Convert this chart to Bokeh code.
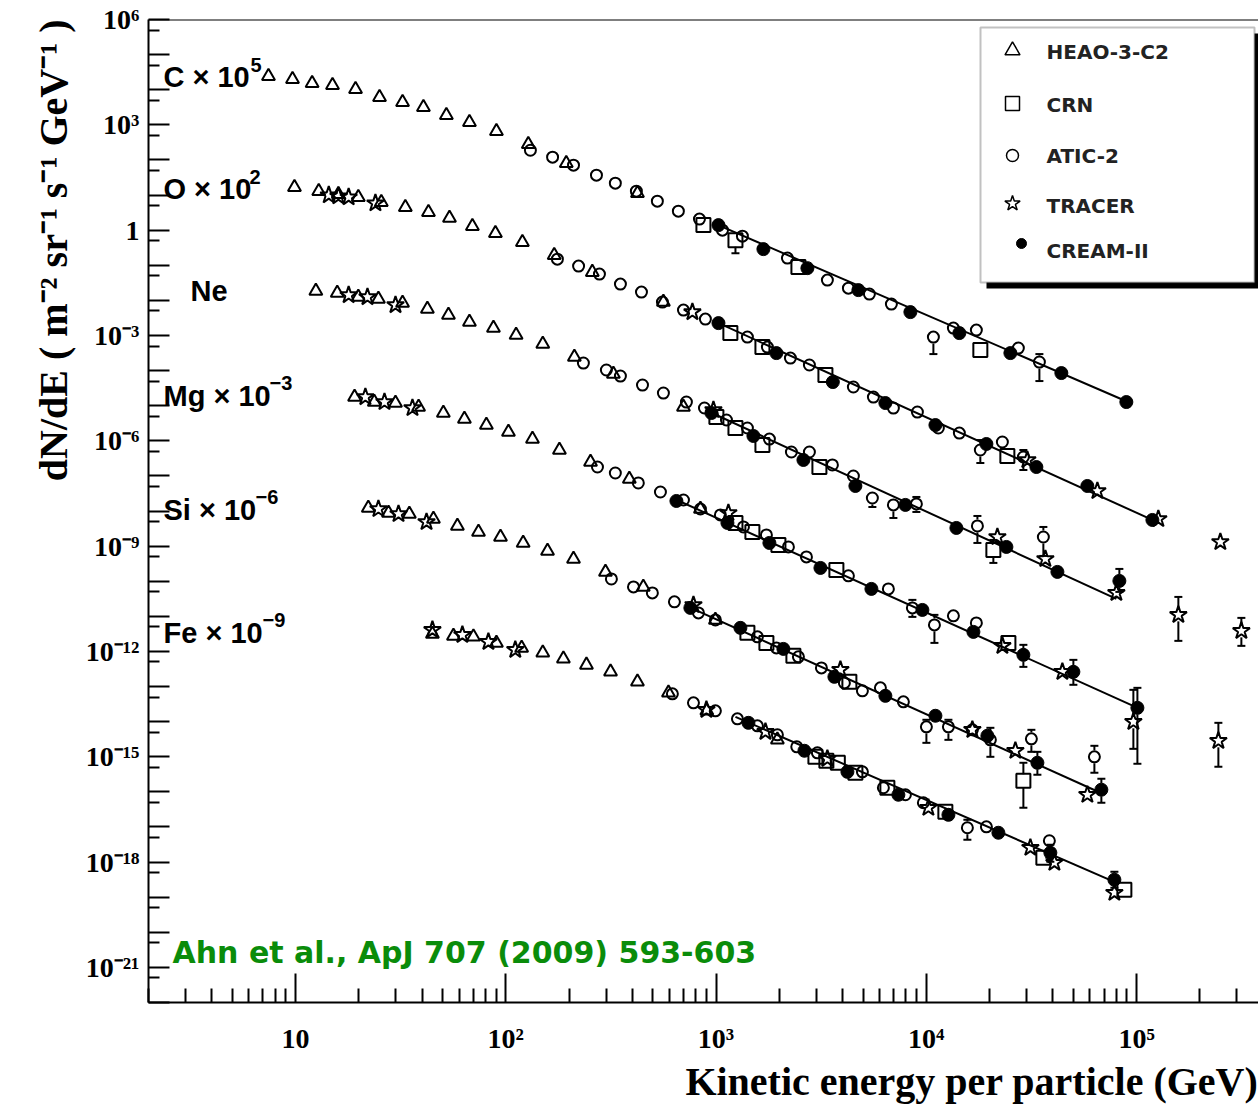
import math
from bokeh.plotting import figure
from bokeh.models import (FixedTicker, CustomJSTickFormatter, Label, Span,
                          BoxAnnotation, Title)
from bokeh.embed import file_html
from bokeh.resources import INLINE

# ---------------- axis ranges / ticks ----------------
X_LO, X_HI = 2.0, 3.8e5
Y_LO, Y_HI = 1e-22, 1e6
X_MAJOR = [10.0 ** n for n in range(0, 6)]
X_MINOR = [m * 10.0 ** n for n in range(0, 6) for m in range(2, 10)]
Y_MAJOR = [10.0 ** n for n in range(-22, 7)]
Y_MINOR = [5 * 10.0 ** n for n in range(-22, 6)]

# ---------------- labels ----------------
ELEMENTS = ["C", "O", "Ne", "Mg", "Si", "Fe"]
ELEMENT_BASE = ["C \u00d7 10", "O \u00d7 10", "Ne", "Mg \u00d7 10", "Si \u00d7 10", "Fe \u00d7 10"]
ELEMENT_EXP = ["5", "2", "", "\u22123", "\u22126", "\u22129"]
SCALES = [1e5, 1e2, 1.0, 1e-3, 1e-6, 1e-9]
EXPERIMENTS = ["HEAO-3-C2", "CRN", "ATIC-2", "TRACER", "CREAM-II"]
CITATION = "Ahn et al., ApJ 707 (2009) 593-603"
X_TITLE = "Kinetic energy per particle (GeV)"
Y_TITLE = "dN/dE ( m\u207b\u00b2 sr\u207b\u00b9 s\u207b\u00b9 GeV\u207b\u00b9 )"

# ---------------- data: E (GeV), unscaled flux (m^-2 sr^-1 s^-1 GeV^-1) ----------------
# Carbon
C_HEAO_E = [7.44, 9.68, 12.0, 15.0, 19.3, 25.1, 32.3, 40.6, 52.2, 67.2, 90.3, 128, 194, 423]
C_HEAO_F = [0.242, 0.199, 0.153, 0.134, 0.103, 0.0611, 0.0440, 0.0317, 0.0188, 0.0119, 6.58e-3, 2.81e-3, 8.07e-4, 1.13e-4]
C_CRN_E = [871, 1237, 2465, 18070]
C_CRN_F = [1.39e-5, 5.19e-6, 8.85e-7, 3.84e-9]
C_ATIC_E = [131, 167, 210, 270, 332, 418, 526, 662, 834, 1073, 1335, 2185, 3385, 4261, 5362, 6823, 10807, 13453, 17300, 27400, 34500]
C_ATIC_F = [1.89e-3, 1.20e-3, 7.09e-4, 3.68e-4, 2.18e-4, 1.29e-4, 6.69e-5, 3.47e-5, 2.06e-5, 1.0e-5, 6.75e-6, 1.60e-6, 3.77e-7, 2.23e-7, 1.51e-7, 7.83e-8, 9.0e-9, 1.62e-8, 1.42e-8, 4.38e-9, 1.75e-9]
C_TRACER_E = []
C_TRACER_F = []
C_CREAM_E = [1027, 1680, 2720, 4754, 8400, 14360, 25110, 43880, 89400]
C_CREAM_F = [1.39e-5, 2.88e-6, 8.28e-7, 1.96e-7, 4.63e-8, 1.17e-8, 3.15e-9, 8.5e-10, 1.27e-10]
C_FIT_E = [1000, 93400]
C_FIT_F = [1.48e-5, 1.19e-10]
C_ERR_E = [1237, 10807, 34500, 89400]
C_ERR_F = [5.19e-6, 9.0e-9, 1.75e-9, 1.27e-10]
C_ERR_LO = [2.21e-6, 2.95e-9, 5.03e-10, 9.77e-11]
C_ERR_HI = [7.2e-6, 1.33e-8, 2.95e-9, 1.65e-10]

# Oxygen
O_HEAO_E = [9.89, 12.9, 16.0, 19.9, 25.6, 33.3, 42.9, 54.0, 69.4, 89.3, 120, 170, 258, 562]
O_HEAO_F = [0.167, 0.129, 0.106, 0.087, 0.0627, 0.0452, 0.0325, 0.0220, 0.0130, 8.22e-3, 4.55e-3, 1.94e-3, 6.37e-4, 8.92e-5]
O_CRN_E = [1170, 1662, 3313, 24290]
O_CRN_F = [1.17e-5, 4.67e-6, 7.46e-7, 3.69e-9]
O_ATIC_E = [176, 222, 279, 351, 442, 556, 700, 890, 1410, 1755, 2258, 2780, 4500, 5603, 6974, 9070, 11410, 14360, 18070, 23000, 28950]
O_ATIC_F = [1.49e-3, 9.45e-4, 5.59e-4, 2.90e-4, 1.72e-4, 8.92e-5, 5.28e-5, 2.93e-5, 9.0e-6, 4.67e-6, 2.27e-6, 1.44e-6, 3.40e-7, 1.76e-7, 8.57e-8, 6.59e-8, 2.31e-8, 1.66e-8, 5.46e-9, 9.23e-9, 3.45e-9]
O_TRACER_E = [14.4, 16.0, 17.9, 24.0, 772, 30240, 65100, 126900, 250200]
O_TRACER_F = [0.0992, 0.0929, 0.087, 0.0587, 4.63e-5, 2.84e-9, 3.72e-10, 5.93e-11, 1.31e-11]
O_CREAM_E = [1027, 1937, 3593, 6388, 11050, 19310, 33380, 58330, 118900]
O_CREAM_F = [2.25e-5, 3.15e-6, 4.71e-7, 1.19e-7, 2.81e-8, 8.10e-9, 1.79e-9, 5.16e-10, 5.56e-11]
O_FIT_E = [993, 126900]
O_FIT_F = [2.47e-5, 4.66e-11]
O_ERR_E = [18070, 28950]
O_ERR_F = [5.46e-9, 3.45e-9]
O_ERR_LO = [2.33e-9, 1.47e-9]
O_ERR_HI = [1.05e-8, 5.46e-9]

# Neon
Ne_HEAO_E = [12.5, 15.8, 19.9, 24.8, 32.3, 42.4, 53.4, 67.2, 87.4, 112, 150, 212, 325, 700]
Ne_HEAO_F = [0.0184, 0.0161, 0.0124, 0.0109, 8.35e-3, 5.64e-3, 3.80e-3, 2.41e-3, 1.62e-3, 1.03e-3, 5.69e-4, 2.42e-4, 7.96e-5, 9.15e-6]
Ne_CRN_E = [1004, 1237, 1662, 3102, 20840]
Ne_CRN_F = [4.75e-6, 2.31e-6, 7.59e-7, 1.79e-7, 7.78e-10]
Ne_ATIC_E = [234, 301, 351, 447, 562, 723, 881, 1121, 1410, 1794, 2283, 2780, 3576, 4500, 5540, 6974, 8970, 17500, 36030]
Ne_ATIC_F = [1.64e-4, 1.04e-4, 6.98e-5, 3.87e-5, 2.29e-5, 1.27e-5, 8.57e-6, 3.91e-6, 2.31e-6, 1.12e-6, 4.80e-7, 4.80e-7, 2.05e-7, 9.94e-8, 2.35e-8, 1.49e-8, 1.59e-8, 3.75e-9, 1.82e-9]
Ne_TRACER_E = [17.9, 22.0, 29.9, 972, 21780, 36830, 80130, 158000, 315000]
Ne_TRACER_F = [0.0141, 0.0124, 7.33e-3, 7.52e-6, 1.82e-9, 4.31e-10, 4.65e-11, 1.10e-11, 3.85e-12]
Ne_CREAM_E = [951, 1506, 2604, 4600, 7954, 13900, 24040, 42020, 82820]
Ne_CREAM_F = [6.18e-6, 1.37e-6, 2.84e-7, 5.16e-8, 1.49e-8, 3.29e-9, 9.47e-10, 1.84e-10, 1.02e-10]
Ne_FIT_E = [890, 80130]
Ne_FIT_F = [7.52e-6, 3.13e-11]
Ne_ERR_E = [5540, 6974, 8970, 17500, 36030, 20840, 82820, 158000, 315000]
Ne_ERR_F = [2.35e-8, 1.49e-8, 1.59e-8, 3.75e-9, 1.82e-9, 7.78e-10, 1.02e-10, 1.10e-11, 3.85e-12]
Ne_ERR_LO = [1.30e-8, 6.33e-9, 9.39e-9, 1.23e-9, 5.25e-10, 3.32e-10, 4.96e-11, 2.0e-12, 1.44e-12]
Ne_ERR_HI = [3.26e-8, 2.06e-8, 2.51e-8, 7.22e-9, 3.51e-9, 1.50e-9, 2.24e-10, 3.57e-11, 9.02e-12]

# Magnesium
Mg_HEAO_E = [19.1, 23.7, 29.9, 38.5, 50.5, 63.6, 80.9, 103, 134, 180, 253, 387, 843]
Mg_HEAO_F = [1.76e-2, 1.27e-2, 1.19e-2, 9.15e-3, 6.18e-3, 4.17e-3, 2.81e-3, 1.78e-3, 1.12e-3, 5.46e-4, 2.49e-4, 8.17e-5, 1.14e-5]
Mg_CRN_E = [1237, 1489, 1980, 3736, 24570]
Mg_CRN_F = [4.57e-6, 2.53e-6, 1.08e-6, 2.10e-7, 1.75e-9]
Mg_ATIC_E = [273, 332, 427, 544, 700, 843, 1049, 1350, 1736, 2209, 2691, 4261, 6601, 8586, 10930, 13453, 17300]
Mg_ATIC_F = [1.79e-4, 1.21e-4, 6.29e-5, 3.48e-5, 2.06e-5, 1.14e-5, 7.71e-6, 3.51e-6, 2.08e-6, 9.47e-7, 4.92e-7, 1.42e-7, 6.04e-8, 1.74e-8, 5.70e-9, 1.03e-8, 6.50e-9]
Mg_TRACER_E = [21.5, 26.5, 36.0, 1145, 23000, 44370, 96540, 244900]
Mg_TRACER_F = [1.76e-2, 1.27e-2, 8.57e-3, 8.79e-6, 1.44e-9, 2.62e-10, 9.88e-12, 2.84e-12]
Mg_CREAM_E = [648, 1133, 1794, 3137, 5482, 9581, 16750, 28950, 50050, 100900]
Mg_CREAM_F = [1.93e-5, 4.57e-6, 1.23e-6, 2.39e-7, 6.04e-8, 1.52e-8, 3.60e-9, 7.98e-10, 2.62e-10, 2.47e-11]
Mg_FIT_E = [620, 98700]
Mg_FIT_F = [2.35e-5, 2.64e-11]
Mg_ERR_E = [8586, 10930, 28950, 50050, 100900, 96540, 244900]
Mg_ERR_F = [1.74e-8, 5.70e-9, 7.98e-10, 2.62e-10, 2.47e-11, 9.88e-12, 2.84e-12]
Mg_ERR_LO = [9.63e-9, 1.75e-9, 3.63e-10, 1.12e-10, 6.3e-13, 1.68e-12, 5.18e-13]
Mg_ERR_HI = [2.94e-8, 1.10e-8, 1.54e-9, 5.75e-10, 9.18e-11, 8.05e-11, 9.25e-12]

# Silicon
Si_HEAO_E = [22.2, 27.7, 34.8, 45.3, 58.9, 74.2, 94.4, 121, 158, 210, 298, 451, 993]
Si_HEAO_F = [1.22e-2, 8.79e-3, 8.24e-3, 5.93e-3, 3.75e-3, 2.53e-3, 1.82e-3, 1.23e-3, 7.28e-4, 4.31e-4, 1.84e-4, 6.89e-5, 7.91e-6]
Si_CRN_E = [1410, 1736, 2333, 4307, 28950]
Si_CRN_F = [3.38e-6, 1.75e-6, 7.48e-7, 1.36e-7, 2.07e-10]
Si_ATIC_E = [318, 405, 498, 634, 825, 993, 1573, 1937, 2465, 3171, 4078, 4967, 6049, 7780, 10010, 12740, 16560, 20170, 31600, 63000]
Si_ATIC_F = [1.16e-4, 6.89e-5, 4.65e-5, 2.58e-5, 1.25e-5, 7.91e-6, 2.60e-6, 1.26e-6, 7.00e-7, 3.40e-7, 1.27e-7, 7.53e-8, 9.18e-8, 3.67e-8, 7.12e-9, 7.12e-9, 5.85e-9, 3.03e-9, 3.24e-9, 9.96e-10]
Si_TRACER_E = [24.8, 30.9, 42.0, 781, 3904, 16560, 26520, 58330]
Si_TRACER_F = [1.14e-2, 8.24e-3, 4.88e-3, 2.11e-5, 2.99e-7, 5.85e-9, 1.48e-9, 8.26e-11]
Si_CREAM_E = [755, 1306, 2091, 3655, 6388, 11050, 19520, 33750, 68000]
Si_CREAM_F = [1.74e-5, 4.69e-6, 1.18e-6, 1.89e-7, 5.43e-8, 1.47e-8, 3.95e-9, 6.73e-10, 1.15e-10]
Si_FIT_E = [723, 67240]
Si_FIT_F = [1.98e-5, 9.42e-11]
Si_ERR_E = [10010, 12740, 20170, 31600, 33750, 28950, 63000, 68000]
Si_ERR_F = [7.12e-9, 7.12e-9, 3.03e-9, 3.24e-9, 6.73e-10, 2.07e-10, 9.96e-10, 1.15e-10]
Si_ERR_LO = [2.49e-9, 3.03e-9, 9.96e-10, 1.38e-9, 3.06e-10, 3.52e-11, 3.49e-10, 4.89e-11]
Si_ERR_HI = [1.13e-8, 1.13e-8, 6.67e-9, 5.85e-9, 1.38e-9, 6.73e-10, 2.05e-9, 2.36e-10]

# Iron
Fe_HEAO_E = [44.8, 56.4, 70.2, 90.3, 119, 150, 188, 242, 315, 423, 594, 904, 1958]
Fe_HEAO_F = [3.16e-3, 2.77e-3, 2.60e-3, 1.75e-3, 1.26e-3, 9.10e-4, 6.14e-4, 4.14e-4, 2.62e-4, 1.36e-4, 6.61e-5, 2.03e-5, 3.03e-6]
Fe_CRN_E = [2969, 3348, 3795, 4600, 6529, 12320, 36030, 87480]
Fe_CRN_F = [9.96e-7, 7.67e-7, 6.73e-7, 3.49e-7, 1.31e-7, 2.71e-8, 1.33e-9, 1.63e-10]
Fe_ATIC_E = [620, 781, 993, 1264, 1573, 1958, 2421, 3034, 4967, 6250, 7954, 9685, 15680, 19310, 38480]
Fe_ATIC_F = [6.19e-5, 3.43e-5, 2.03e-5, 1.20e-5, 7.60e-6, 4.22e-6, 1.92e-6, 1.29e-6, 3.72e-7, 1.31e-7, 8.26e-8, 4.89e-8, 9.48e-9, 1.01e-8, 4.05e-9]
Fe_TRACER_E = [44.8, 62.2, 82.7, 111, 900, 1718, 3385, 10230, 31260, 40650, 78420]
Fe_TRACER_F = [4.11e-3, 2.96e-3, 1.87e-3, 1.11e-3, 2.17e-5, 5.13e-6, 8.75e-7, 3.52e-8, 2.56e-9, 9.57e-10, 1.34e-10]
Fe_CREAM_E = [1426, 2633, 4215, 7366, 12740, 22020, 38900, 78420]
Fe_CREAM_F = [9.25e-6, 1.48e-6, 3.72e-7, 8.26e-8, 2.22e-8, 6.84e-9, 1.84e-9, 3.14e-10]
Fe_FIT_E = [1237, 81920]
Fe_FIT_F = [1.37e-5, 2.42e-10]
Fe_ERR_E = [15680, 38480, 38900, 78420]
Fe_ERR_F = [9.48e-9, 4.05e-9, 1.84e-9, 3.14e-10]
Fe_ERR_LO = [4.33e-9, 1.33e-9, 1.02e-9, 1.86e-10]
Fe_ERR_HI = [1.60e-8, 6.0e-9, 3.12e-9, 5.31e-10]

# ---------------- tables built from the lists above ----------------
SERIES = {
    "C": [(C_HEAO_E, C_HEAO_F), (C_CRN_E, C_CRN_F), (C_ATIC_E, C_ATIC_F), (C_TRACER_E, C_TRACER_F), (C_CREAM_E, C_CREAM_F)],
    "O": [(O_HEAO_E, O_HEAO_F), (O_CRN_E, O_CRN_F), (O_ATIC_E, O_ATIC_F), (O_TRACER_E, O_TRACER_F), (O_CREAM_E, O_CREAM_F)],
    "Ne": [(Ne_HEAO_E, Ne_HEAO_F), (Ne_CRN_E, Ne_CRN_F), (Ne_ATIC_E, Ne_ATIC_F), (Ne_TRACER_E, Ne_TRACER_F), (Ne_CREAM_E, Ne_CREAM_F)],
    "Mg": [(Mg_HEAO_E, Mg_HEAO_F), (Mg_CRN_E, Mg_CRN_F), (Mg_ATIC_E, Mg_ATIC_F), (Mg_TRACER_E, Mg_TRACER_F), (Mg_CREAM_E, Mg_CREAM_F)],
    "Si": [(Si_HEAO_E, Si_HEAO_F), (Si_CRN_E, Si_CRN_F), (Si_ATIC_E, Si_ATIC_F), (Si_TRACER_E, Si_TRACER_F), (Si_CREAM_E, Si_CREAM_F)],
    "Fe": [(Fe_HEAO_E, Fe_HEAO_F), (Fe_CRN_E, Fe_CRN_F), (Fe_ATIC_E, Fe_ATIC_F), (Fe_TRACER_E, Fe_TRACER_F), (Fe_CREAM_E, Fe_CREAM_F)],
}
FITS = {"C": (C_FIT_E, C_FIT_F), "O": (O_FIT_E, O_FIT_F), "Ne": (Ne_FIT_E, Ne_FIT_F),
        "Mg": (Mg_FIT_E, Mg_FIT_F), "Si": (Si_FIT_E, Si_FIT_F), "Fe": (Fe_FIT_E, Fe_FIT_F)}
ERRS = {"C": (C_ERR_E, C_ERR_F, C_ERR_LO, C_ERR_HI), "O": (O_ERR_E, O_ERR_F, O_ERR_LO, O_ERR_HI),
        "Ne": (Ne_ERR_E, Ne_ERR_F, Ne_ERR_LO, Ne_ERR_HI), "Mg": (Mg_ERR_E, Mg_ERR_F, Mg_ERR_LO, Mg_ERR_HI),
        "Si": (Si_ERR_E, Si_ERR_F, Si_ERR_LO, Si_ERR_HI), "Fe": (Fe_ERR_E, Fe_ERR_F, Fe_ERR_LO, Fe_ERR_HI)}

STYLES = [
    dict(marker="triangle", size=13, fill_color=None, line_color="black", line_width=2),
    dict(marker="square", size=14, fill_color=None, line_color="black", line_width=2),
    dict(marker="circle", size=11, fill_color=None, line_color="black", line_width=2),
    dict(marker="star", size=18, fill_color=None, line_color="black", line_width=2),
    dict(marker="circle", size=13, fill_color="black", line_color="black", line_width=1),
]

# ---------------- layout geometry ----------------
W, H = 1258, 1107
FRAME_L, FRAME_T, FRAME_B = 148, 19, 105
FRAME_W = W - FRAME_L
FRAME_H = H - FRAME_T - FRAME_B
PX_DEC_X = FRAME_W / (math.log10(X_HI) - math.log10(X_LO))
PX_DEC_Y = FRAME_H / (math.log10(Y_HI) - math.log10(Y_LO))


def px_x(px):
    return 10 ** (math.log10(X_LO) + (px - FRAME_L) / PX_DEC_X)


def px_y(py):
    return 10 ** (math.log10(Y_HI) - (py - FRAME_T) / PX_DEC_Y)


p = figure(width=W, height=H, x_axis_type="log", y_axis_type="log",
           x_range=(X_LO, X_HI), y_range=(Y_LO, Y_HI),
           output_backend="svg", toolbar_location=None, title=None,
           min_border_left=FRAME_L, min_border_right=0,
           min_border_top=FRAME_T, min_border_bottom=FRAME_B)
p.outline_line_color = None
p.background_fill_color = "white"
p.border_fill_color = "white"
p.xgrid.visible = False
p.ygrid.visible = False

SUP_JS = """
const sup = {"0":"\u2070","1":"\u00b9","2":"\u00b2","3":"\u00b3","4":"\u2074","5":"\u2075",
             "6":"\u2076","7":"\u2077","8":"\u2078","9":"\u2079","-":"\u207b"};
const e = Math.round(Math.log10(tick));
"""
p.xaxis.ticker = FixedTicker(ticks=X_MAJOR, minor_ticks=X_MINOR)
p.yaxis.ticker = FixedTicker(ticks=Y_MAJOR, minor_ticks=Y_MINOR)
p.xaxis.formatter = CustomJSTickFormatter(code=SUP_JS + """
if (e === 0) return "1";
if (e === 1) return "10";
return "10" + String(e).split("").map(c => sup[c]).join("");
""")
p.yaxis.formatter = CustomJSTickFormatter(code=SUP_JS + """
if (e % 3 !== 0) return "";
if (e === 0) return "1";
return "10" + String(e).split("").map(c => sup[c]).join("");
""")
for ax in (p.xaxis, p.yaxis):
    ax.axis_line_width = 2
    ax.major_tick_line_width = 2
    ax.minor_tick_line_width = 2
    ax.major_tick_out = 0
    ax.minor_tick_out = 0
    ax.major_label_text_font = "Liberation Serif"
    ax.major_label_text_font_style = "bold"
    ax.major_label_text_font_size = "28px"
    ax.major_label_text_color = "black"
p.xaxis.major_tick_in = 29
p.xaxis.minor_tick_in = 14
p.xaxis.major_label_standoff = 20
p.yaxis.major_tick_in = 21
p.yaxis.minor_tick_in = 11
p.yaxis.major_label_standoff = 9

# axis titles as side-panel titles
p.add_layout(Title(text=X_TITLE, align="right", text_font="Liberation Serif", text_font_style="bold",
                   text_font_size="40px", text_color="black", standoff=0), "below")
p.add_layout(Title(text=Y_TITLE, align="right", text_font="Liberation Serif", text_font_style="bold",
                   text_font_size="40px", text_color="black", standoff=13), "left")

# top frame line
p.add_layout(Span(location=Y_HI, dimension="width", line_color="black", line_width=2))

# legend box (drawn under the data)
p.add_layout(BoxAnnotation(left=px_x(986), right=px_x(1262), top=px_y(33), bottom=px_y(288),
                           fill_color="black", fill_alpha=1, line_color=None, level="underlay"))
p.add_layout(BoxAnnotation(left=px_x(980), right=px_x(1254), top=px_y(27), bottom=px_y(282),
                           fill_color="white", fill_alpha=1, line_color="#333333", line_width=2,
                           level="underlay"))

# fit lines
for el in ELEMENTS:
    s = SCALES[ELEMENTS.index(el)]
    fe, ff = FITS[el]
    p.line(fe, [f * s for f in ff], line_color="black", line_width=2)

# error bars (drawn from the marker edge outward)
GAP = 10 ** (6.5 / PX_DEC_Y)
for el in ELEMENTS:
    s = SCALES[ELEMENTS.index(el)]
    ee, ef, elo, ehi = ERRS[el]
    x0, y0, y1, cx, cy = [], [], [], [], []
    for e, f, lo, hi in zip(ee, ef, elo, ehi):
        f, lo, hi = f * s, lo * s, hi * s
        if lo < f / GAP:
            x0.append(e); y0.append(f / GAP); y1.append(lo); cx.append(e); cy.append(lo)
        if hi > f * GAP:
            x0.append(e); y0.append(f * GAP); y1.append(hi); cx.append(e); cy.append(hi)
    p.segment(x0=x0, y0=y0, x1=x0, y1=y1, line_color="black", line_width=2)
    p.scatter(cx, cy, marker="dash", size=8, line_color="black", line_width=2)

# data points
for k in range(len(EXPERIMENTS)):
    for el in ELEMENTS:
        s = SCALES[ELEMENTS.index(el)]
        es, fs = SERIES[el][k]
        if es:
            p.scatter(es, [f * s for f in fs], **STYLES[k])

# element labels (base text + raised exponent)
EL_LABEL_PX = [(163, 76), (163, 188), (190, 290), (163, 395), (163, 509), (163, 632)]
EL_EXP_PX = [(250, 64), (249, 176), (0, 0), (269, 382), (255, 496), (262, 619)]
for base, exp_, (lx, ly), (ex, ey) in zip(ELEMENT_BASE, ELEMENT_EXP, EL_LABEL_PX, EL_EXP_PX):
    p.add_layout(Label(x=px_x(lx), y=px_y(ly), text=base, text_font="Liberation Sans",
                       text_font_style="bold", text_font_size="29px", text_color="black",
                       text_baseline="middle", text_align="left"))
    if exp_:
        p.add_layout(Label(x=px_x(ex), y=px_y(ey), text=exp_, text_font="Liberation Sans",
                           text_font_style="bold", text_font_size="20px", text_color="black",
                           text_baseline="middle", text_align="left"))

# legend entries
LEG_Y = [50, 103, 155, 203, 243]
LEG_TXT_Y = [51, 104, 155, 205, 250]
LEG_STYLE = [
    dict(marker="triangle", size=15, fill_color=None, line_color="black", line_width=1.5),
    dict(marker="square", size=14, fill_color=None, line_color="black", line_width=1.5),
    dict(marker="circle", size=12, fill_color=None, line_color="black", line_width=1.5),
    dict(marker="star", size=16, fill_color=None, line_color="black", line_width=1.5),
    dict(marker="circle", size=10, fill_color="black", line_color="black", line_width=1),
]
LEG_X = [1012, 1012, 1012, 1012, 1021]
for k, name in enumerate(EXPERIMENTS):
    p.scatter([px_x(LEG_X[k])], [px_y(LEG_Y[k])], **LEG_STYLE[k])
    p.add_layout(Label(x=px_x(1046), y=px_y(LEG_TXT_Y[k]), text=name, text_font="DejaVu Sans",
                       text_font_style="bold", text_font_size="20px", text_color="#222222",
                       text_baseline="middle", text_align="left"))

# citation
p.add_layout(Label(x=px_x(172), y=px_y(952), text=CITATION, text_font="DejaVu Sans",
                   text_font_style="bold", text_font_size="30px", text_color="#0a8c0a",
                   text_baseline="middle", text_align="left"))

open("out.html", "w").write(file_html(p, INLINE))
